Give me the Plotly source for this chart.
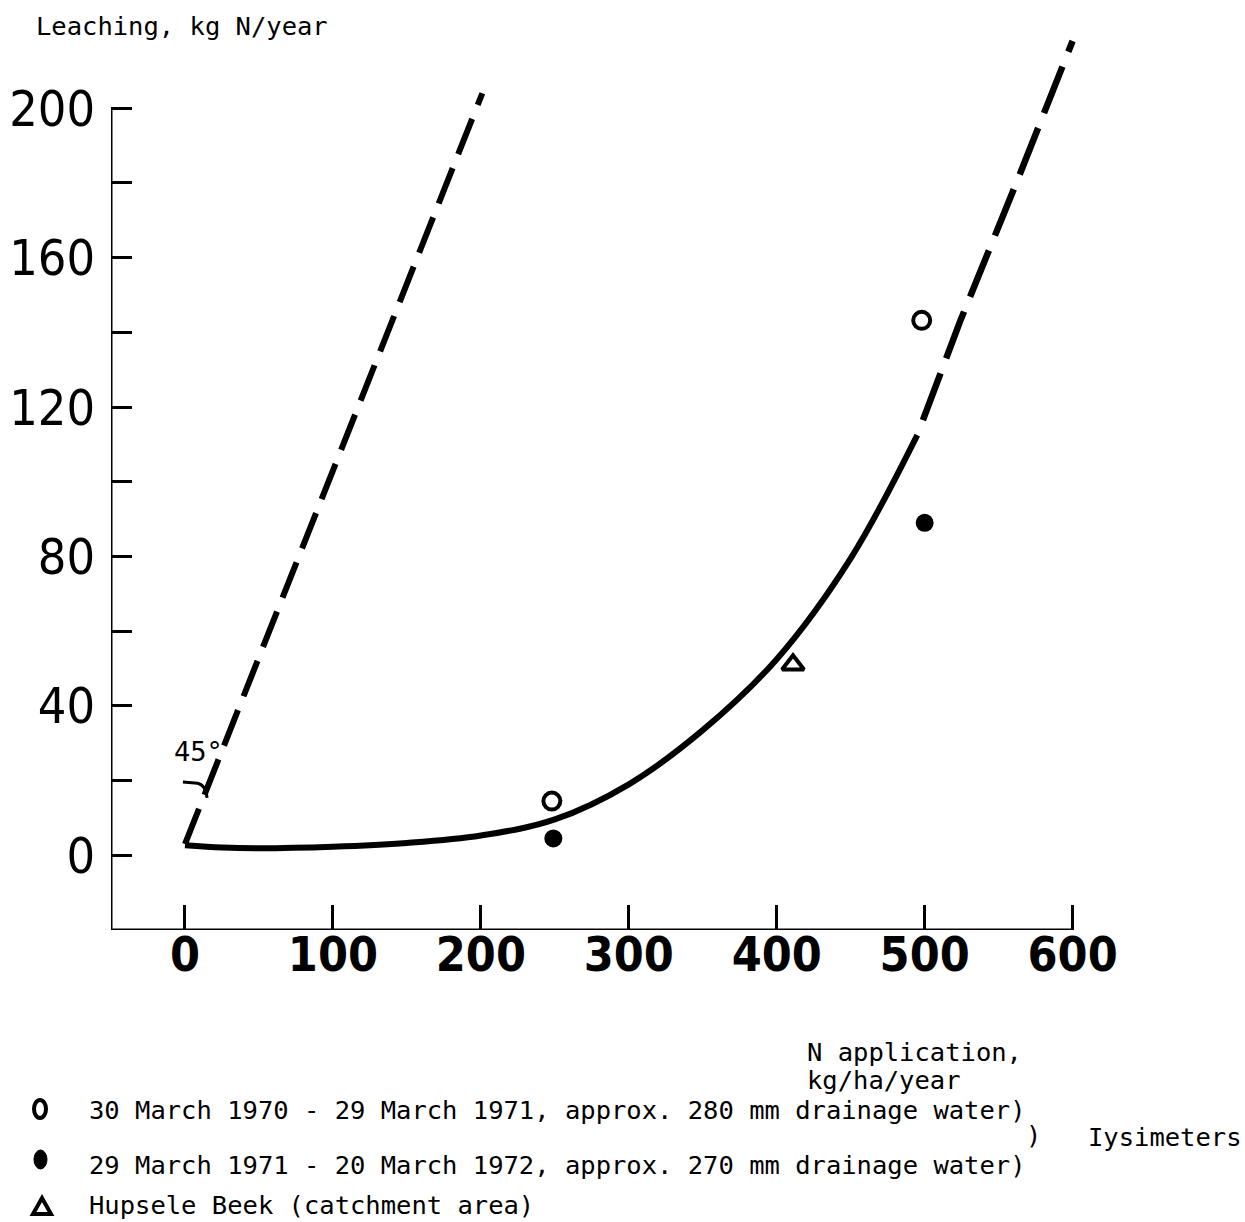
import plotly.graph_objects as go

# ---------------- data ----------------
LINE45_X = [0, 201]
LINE45_Y = [3, 204]

CURVE_X = [0, 25, 50, 100, 150, 200, 250, 300, 350, 400, 450, 495]
CURVE_Y = [2.7, 2.1, 1.9, 2.3, 3.3, 5.3, 9.6, 19.0, 33.5, 52.5, 79.5, 112.5]

EXTRAP_X = [495, 524, 562, 600]
EXTRAP_Y = [112.5, 143, 180, 218]

OPEN_X = [248, 498]
OPEN_Y = [14.5, 143.2]
FILLED_X = [249, 500]
FILLED_Y = [4.5, 89.0]
TRI_X = [411]
TRI_Y = [51.0]

X_TICKS = [0, 100, 200, 300, 400, 500, 600]
X_TICK_LABELS = ["0", "100", "200", "300", "400", "500", "600"]
Y_TICKS = [0, 20, 40, 60, 80, 100, 120, 140, 160, 180, 200]
Y_TICK_LABELS = ["0", "", "40", "", "80", "", "120", "", "160", "", "200"]

Y_TITLE = "Leaching, kg N/year"
X_TITLE_1 = "N application,"
X_TITLE_2 = "kg/ha/year"
LEG_1 = "30 March 1970 - 29 March 1971, approx. 280 mm drainage water)"
LEG_2 = "29 March 1971 - 20 March 1972, approx. 270 mm drainage water)"
LEG_3 = "Hupsele Beek (catchment area)"
LEG_BRACE = ")"
LEG_GROUP = "Iysimeters"
ANGLE_TEXT = "45°"

# ---------------- geometry ----------------
WIDTH, HEIGHT = 1245, 1222
L, R, T, B = 111, 1080, 26, 930
PW, PH = R - L, B - T


def px(xp):
    return (xp - L) / PW


def py(yp):
    return (B - yp) / PH


MONO = "DejaVu Sans Mono, Liberation Mono, monospace"
NUM = "DejaVu Sans Condensed, Liberation Sans, sans-serif"
BLACK = "#000000"

fig = go.Figure()

fig.add_trace(go.Scatter(x=LINE45_X, y=LINE45_Y, mode="lines",
                         line=dict(color=BLACK, width=6, dash="38px,15px"),
                         showlegend=False, hoverinfo="skip"))
fig.add_trace(go.Scatter(x=CURVE_X, y=CURVE_Y, mode="lines",
                         line=dict(color=BLACK, width=6, shape="spline", smoothing=1.0),
                         showlegend=False, hoverinfo="skip"))
fig.add_trace(go.Scatter(x=EXTRAP_X, y=EXTRAP_Y, mode="lines",
                         line=dict(color=BLACK, width=6.5, dash="0px,16px,50px,0px"),
                         showlegend=False, hoverinfo="skip"))
fig.add_trace(go.Scatter(x=OPEN_X, y=OPEN_Y, mode="markers",
                         marker=dict(symbol="circle-open", size=17, color=BLACK,
                                     line=dict(width=4, color=BLACK)),
                         showlegend=False, hoverinfo="skip"))
fig.add_trace(go.Scatter(x=FILLED_X, y=FILLED_Y, mode="markers",
                         marker=dict(symbol="circle", size=18, color=BLACK,
                                     line=dict(width=0)),
                         showlegend=False, hoverinfo="skip"))
fig.add_trace(go.Scatter(x=TRI_X, y=TRI_Y, mode="markers",
                         marker=dict(symbol="triangle-up-open", size=19, color=BLACK,
                                     line=dict(width=4, color=BLACK)),
                         showlegend=False, hoverinfo="skip"))

shapes = [
    # axis lines
    dict(type="line", xref="x", yref="y", x0=-50, x1=-50, y0=-20, y1=200,
         line=dict(color=BLACK, width=3)),
    dict(type="line", xref="x", yref="y", x0=-50, x1=600, y0=-20, y1=-20,
         line=dict(color=BLACK, width=3)),
    # 45 degree angle hook
    dict(type="path", xref="x", yref="y",
         path="M -1.4,19.6 L 8.5,19.3 Q 14.2,18.8 14.9,15.4",
         line=dict(color=BLACK, width=3)),
    # legend symbols
    dict(type="circle", xref="paper", yref="paper",
         x0=px(34), x1=px(46), y0=py(1118), y1=py(1100),
         line=dict(color=BLACK, width=4)),
    dict(type="circle", xref="paper", yref="paper",
         x0=px(34), x1=px(47), y0=py(1169), y1=py(1150),
         fillcolor=BLACK, line=dict(color=BLACK, width=1)),
    dict(type="path", xref="paper", yref="paper",
         path=f"M {px(33)},{py(1214)} L {px(51)},{py(1214)} L {px(42)},{py(1198)} Z",
         line=dict(color=BLACK, width=4)),
]

annotations = []


def add_text(text, x, y, size=25.5, anchor="left"):
    annotations.append(dict(text=text, xref="paper", yref="paper",
                            x=px(x), y=py(y), xanchor=anchor, yanchor="middle",
                            showarrow=False, borderpad=0,
                            font=dict(family=MONO, size=size, color=BLACK)))


add_text(Y_TITLE, 35, 26)
add_text(X_TITLE_1, 806, 1052)
add_text(X_TITLE_2, 806, 1080)
add_text(LEG_1, 88, 1110)
add_text(LEG_BRACE, 1025, 1135)
add_text(LEG_GROUP, 1087, 1137)
add_text(LEG_2, 88, 1165)
add_text(LEG_3, 88, 1205)
add_text(ANGLE_TEXT, 173, 751, size=27)

fig.update_layout(
    width=WIDTH, height=HEIGHT,
    margin=dict(l=L, r=WIDTH - R, t=T, b=HEIGHT - B, pad=0, autoexpand=False),
    paper_bgcolor="white", plot_bgcolor="white",
    showlegend=False,
    shapes=shapes, annotations=annotations,
    xaxis=dict(range=[-50, 605], showgrid=False, zeroline=False, showline=False,
               automargin=False,
               tickmode="array", tickvals=X_TICKS, ticktext=X_TICK_LABELS,
               ticks="inside", ticklen=25, tickwidth=3, tickcolor=BLACK,
               ticklabelstandoff=-8,
               tickfont=dict(family=NUM, size=48, color=BLACK, weight=600)),
    yaxis=dict(range=[-20, 222], showgrid=False, zeroline=False, showline=False,
               automargin=False,
               tickmode="array", tickvals=Y_TICKS, ticktext=Y_TICK_LABELS,
               ticks="inside", ticklen=21, tickwidth=3, tickcolor=BLACK,
               ticklabelstandoff=15,
               tickfont=dict(family=NUM, size=50, color=BLACK)),
)

fig.write_html("out.html")
